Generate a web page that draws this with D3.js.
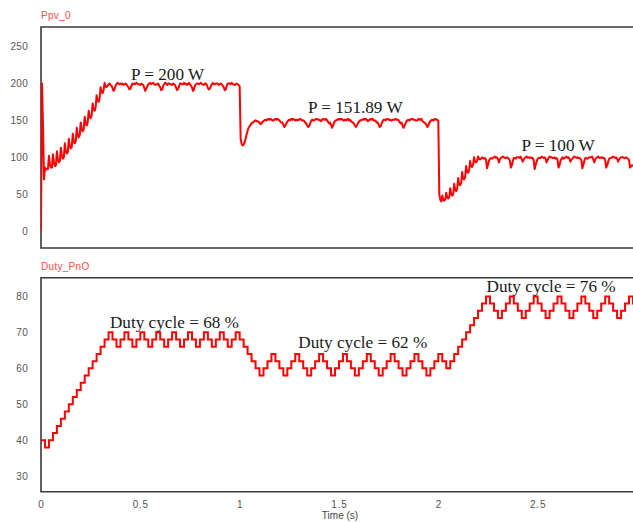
<!DOCTYPE html>
<html><head><meta charset="utf-8">
<script src="https://cdn.jsdelivr.net/npm/d3@7"></script>
<style>body{margin:0;background:#fff;} svg{display:block;}</style>
</head><body><svg id="c" width="633" height="522"></svg>
<script>
// ---------- data ----------
const pvDt = 0.005;     // s between Ppv samples
const dutyDt = 0.02;    // s between P&O duty updates

const ppvStartup = [
  0, 200, 145, 70,
  86, 83, 84, 84,  102, 90, 86, 86,  104, 93, 88, 89,  108, 97, 93, 95,
  113, 102, 98, 100,  119, 108, 105, 107,  125, 115, 112, 114,  132, 122, 119, 122,
  140, 130, 127, 130,  147, 138, 135, 138,  155, 146, 143, 147,  163, 155, 153, 157,
  173, 165, 163, 168,  184, 177, 175, 180,  195, 189, 187, 191,  201, 196, 195, 197
];
const ppvMpp200 = [
  199,200,198,197, 194,190,192,197, 199,201,200,199, 200,199,200,198,
  199,200,199,197, 195,192,193,197, 200,199,200,199, 201,200,199,199,
  198,200,199,198, 194,190,193,196, 199,200,201,199, 200,201,199,198,
  199,199,200,197, 195,191,192,197, 199,201,200,198, 200,200,199,199,
  198,200,199,198, 194,191,193,196, 200,200,199,199, 201,199,200,198,
  199,201,199,197, 195,190,192,197, 199,200,200,199, 200,201,199,199,
  198,200,200,198, 194,192,193,196, 199,201,199,199, 200,200,200,198,
  199,200,199,197, 195,191,192,197, 200,200,200,199, 201,199,199,198,
  199,200,199,198
];
const ppvMpp152 = [
  196,125,118,116, 117,120,125,131, 136,140,142,144, 146,147,148,149, 150,149,149,148, 147,145,146,148,
  149,150,151,150, 151,152,151,152, 151,150,150,151, 152,151,152,151, 150,148,147,147, 144,141,143,146,
  148,150,151,150, 152,151,152,151, 150,151,150,151, 151,152,151,150, 150,149,147,146, 143,141,142,146,
  149,151,150,150, 151,152,152,151, 151,150,149,151, 152,151,151,152, 150,148,146,147, 144,140,143,147,
  149,150,151,151, 152,151,152,152, 150,150,151,150, 151,152,150,151, 149,148,147,146, 143,141,143,146,
  148,150,150,151, 151,152,151,152, 151,149,150,151, 152,151,152,150, 150,149,147,147, 144,141,142,146,
  149,151,151,150, 152,152,151,151, 150,150,151,151, 151,152,151,151, 150,148,146,147, 143,140,143,146,
  149,150,151,150, 151,152,152,151, 151,150,150,150, 152,151,151,152, 149,148,147,146, 144,141,143,147,
  149,150,151,150, 151,152,151,151
];
const ppvRise100 = [
  149, 50, 42, 40,  48, 42, 41, 43,  52, 45, 44, 46,  58, 50, 48, 50,
  64, 56, 54, 57,  72, 63, 62, 65,  80, 71, 70, 73,  88, 80, 79, 82,
  95, 88, 87, 90,  100, 94, 93, 95,  101, 98, 97, 98,  100, 99, 98, 99
];
const ppvMpp100 = [
  97,85,90,95, 98,99,98,99, 100,101,99,100, 98,93,97,99, 100,101,100,99, 99,100,99,98,
  96,86,89,95, 99,99,98,100, 100,100,99,101, 97,94,97,99, 100,101,99,100, 99,100,99,99,
  96,84,90,94, 98,99,99,99, 101,100,99,100, 98,93,96,99, 101,100,100,99, 99,100,98,99,
  97,86,89,95, 98,100,98,99, 100,101,99,100, 98,94,97,98, 100,101,100,99, 100,99,99,98,
  96,85,90,95, 99,99,98,99, 100,100,100,101, 97,93,97,99, 100,101,99,100, 99,100,99,99,
  96,86,89,94, 98,99,99,100, 101,100,99,100, 98,94,97,99, 100,100,100,99, 99,100,99,98,
  96,86,88,89, 88
];

const dutyRise = [40,38,40,42,44,46,48,50,52,54,56,58,60,62,64,66,68,70];
const duty68 = [68,66,68,70, 68,66,68,70, 68,66,68,70, 68,66,68,70,
                68,66,68,70, 68,66,68,70, 68,66,68,70, 68,66,68,70];
const dutyTo62 = [68,66,64,62,60,58,60,62,64];
const duty62 = [62,60,58,60,62,64, 62,60,58,60,62,64, 62,60,58,60,62,64,
                62,60,58,60,62,64, 62,60,58,60,62,64, 62,60,58,60,62,64,
                62,60,58,60,62,64, 62,60];
const dutyTo76 = [62,64,66,68,70,72,74,76,78,80];
const duty76 = [78,76,74,76,78,80, 78,76,74,76,78,80, 78,76,74,76,78,80,
                78,76,74,76,78,80, 78,76,74,76,78,80, 78,76,74,76,78,80, 78];

const ticksP = [0, 50, 100, 150, 200, 250];
const ticksD = [30, 40, 50, 60, 70, 80];
const ticksT = [0, 0.5, 1, 1.5, 2, 2.5];

const notesP = [
  {t: 0.453, v: 204.8, text: "P = 200 W"},
  {t: 1.344, v: 160.1, text: "P = 151.89 W"},
  {t: 2.419, v: 108.5, text: "P = 100 W"}
];
const notesD = [
  {t: 0.347, v: 71.2, text: "Duty cycle = 68 %"},
  {t: 1.295, v: 65.6, text: "Duty cycle = 62 %"},
  {t: 2.243, v: 81.3, text: "Duty cycle = 76 %"}
];

const ppv = [].concat(ppvStartup, ppvMpp200, ppvMpp152, ppvRise100, ppvMpp100);
const duty = [].concat(dutyRise, duty68, dutyTo62, duty62, dutyTo76, duty76);

// ---------- chart ----------
const svg = d3.select("#c");
const x = d3.scaleLinear().domain([0, 2.98]).range([41, 633]);
const yP = d3.scaleLinear().domain([-23.1, 276.7]).range([248, 27]);
const yD = d3.scaleLinear().domain([25.7, 85.2]).range([491.7, 277.7]);

const red = "#ff0000";
const axisCol = "#3a3a3a";
const labelCol = "#555555";
const sans = "'Liberation Sans', Arial, sans-serif";
const serif = "'Liberation Serif', 'Times New Roman', serif";

function panel(y, id, title) {
  const [b, t] = y.range();
  svg.append("clipPath").attr("id", id).append("rect")
    .attr("x", x.range()[0]).attr("y", t).attr("width", x.range()[1] - x.range()[0]).attr("height", b - t);
  svg.append("path")
    .attr("d", `M${x.range()[1]},${t}H${x.range()[0]}V${b}H${x.range()[1]}`)
    .attr("fill", "none").attr("stroke", axisCol).attr("stroke-width", 1.6);
  svg.append("text").attr("x", x.range()[0]).attr("y", t - 8)
    .attr("font-family", sans).attr("font-size", 10).attr("letter-spacing", 0.3)
    .attr("fill", "#ff4a4a").text(title);
}

panel(yP, "clipP", "Ppv_0");
panel(yD, "clipD", "Duty_PnO");

function yAxis(y, ticks) {
  const g = svg.append("g").attr("transform", `translate(${x.range()[0]},0)`)
    .call(d3.axisLeft(y).tickValues(ticks).tickSize(0).tickPadding(13).tickFormat(d3.format("d")));
  g.select(".domain").remove();
  g.selectAll("text").attr("font-family", sans).attr("font-size", 10)
    .attr("letter-spacing", 0.3).attr("fill", labelCol);
}
yAxis(yP, ticksP);
yAxis(yD, ticksD);

const gx = svg.append("g").attr("transform", `translate(0,${yD.range()[0]})`)
  .call(d3.axisBottom(x).tickValues(ticksT).tickSize(0).tickPadding(9).tickFormat(d => String(d)));
gx.select(".domain").remove();
gx.selectAll("text").attr("font-family", sans).attr("font-size", 10)
  .attr("letter-spacing", 0.8).attr("fill", labelCol);

svg.append("text").attr("x", 340).attr("y", 519).attr("text-anchor", "middle")
  .attr("font-family", sans).attr("font-size", 10).attr("fill", "#444").text("Time (s)");

// Ppv trace
const linePv = d3.line().x((d, i) => x(i * pvDt)).y(d => yP(d));
svg.append("path").datum(ppv).attr("clip-path", "url(#clipP)")
  .attr("d", linePv).attr("fill", "none").attr("stroke", red)
  .attr("stroke-width", 2).attr("stroke-linejoin", "round");

// Duty trace
const dutyPts = duty.map((v, k) => [k * dutyDt, v]);
dutyPts.push([duty.length * dutyDt, duty[duty.length - 1]]);
const lineD = d3.line().x(d => x(d[0])).y(d => yD(d[1])).curve(d3.curveStepAfter);
svg.append("path").datum(dutyPts).attr("clip-path", "url(#clipD)")
  .attr("d", lineD).attr("fill", "none").attr("stroke", red).attr("stroke-width", 2);

// Annotations
function notes(list, y) {
  svg.selectAll(null).data(list).enter().append("text")
    .attr("x", d => x(d.t)).attr("y", d => y(d.v))
    .attr("font-family", serif).attr("font-size", 17.2).attr("fill", "#1a1a1a")
    .text(d => d.text);
}
notes(notesP, yP);
notes(notesD, yD);
</script></body></html>
